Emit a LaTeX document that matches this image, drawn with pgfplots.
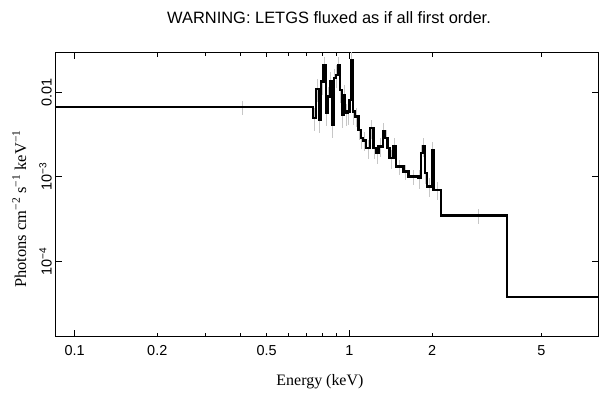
\documentclass[border=0pt]{standalone}
\usepackage{fontspec}
\setmainfont{Liberation Sans}
\newfontfamily\seriffont{Liberation Serif}
\usepackage{pgfplots}
\usepackage{pgfplotstable}
\pgfplotsset{compat=1.18}

\pgfplotstableread{
lo F
0.07 0.006646
0.7358 0.004965
0.7563 0.01094
0.7737 0.004701
0.7888 0.01335
0.8042 0.02104
0.8226 0.005689
0.8316 0.008869
0.8508 0.01335
0.8628 0.004102
0.8796 0.01464
0.8923 0.01602
0.9074 0.02104
0.9250 0.01065
0.9383 0.005387
0.9510 0.009290
0.9646 0.005645
0.9834 0.005895
1.0000 0.008108
1.0118 0.02411
1.0289 0.005895
1.0489 0.005143
1.0784 0.003580
1.1003 0.002855
1.1188 0.002675
1.1502 0.002175
1.1894 0.003750
1.2227 0.002175
1.2507 0.001897
1.2750 0.002272
1.3230 0.003418
1.3487 0.002855
1.3750 0.002175
1.3982 0.001655
1.4459 0.002272
1.4790 0.001317
1.5722 0.001149
1.6396 0.001003
1.7826 0.0009603
1.8188 0.001897
1.8495 0.002272
1.8855 0.001100
1.9126 0.0007634
1.9946 0.002076
2.0215 0.0006981
2.1566 0.0003464
3.7396 0.00003780
9.0 0.00003780
}\steptable

\pgfplotstableread{
E F err
0.41 0.006646 0.2
0.7461 0.004965 0.3
0.7649 0.01094 0.3
0.7812 0.004701 0.3
0.7964 0.01335 0.3
0.8134 0.02104 0.25
0.8271 0.005689 0.3
0.8412 0.008869 0.3
0.8567 0.01335 0.3
0.8712 0.004102 0.3
0.8859 0.01464 0.3
0.8998 0.01602 0.3
0.9162 0.02104 0.25
0.9316 0.01065 0.3
0.9446 0.005387 0.3
0.9578 0.009290 0.3
0.9739 0.005645 0.3
0.9916 0.005895 0.3
1.0059 0.008108 0.3
1.0203 0.02411 0.25
1.0389 0.005895 0.3
1.0635 0.005143 0.25
1.0892 0.003580 0.25
1.1095 0.002855 0.25
1.1343 0.002675 0.25
1.1696 0.002175 0.25
1.2059 0.003750 0.25
1.2365 0.002175 0.25
1.2627 0.001897 0.25
1.2988 0.002272 0.25
1.3360 0.003418 0.25
1.3620 0.002855 0.25
1.3867 0.002175 0.25
1.4219 0.001655 0.25
1.4624 0.002272 0.25
1.5248 0.001317 0.2
1.6055 0.001149 0.2
1.7099 0.001003 0.2
1.8006 0.0009603 0.25
1.8340 0.001897 0.25
1.8674 0.002272 0.25
1.8990 0.001100 0.25
1.9533 0.0007634 0.25
2.0080 0.002076 0.25
2.0878 0.0006981 0.25
2.94 0.0003464 0.2
}\errtable

\begin{document}
\begin{tikzpicture}
\useasboundingbox (-55.3bp,-62.3bp) rectangle (553.7bp,336.7bp);
\begin{axis}[
  scale only axis,
  width=543.4bp, height=284bp,
  xmode=log, ymode=log,
  xmin=0.0851, xmax=8.08,
  ymin=1.27e-5, ymax=0.0294,
  axis line style={line width=1.4bp},
  every tick/.style={black, line width=1bp},
  major tick length=6.5bp,
  minor tick length=3.5bp,
  xtick={0.1,1},
  xticklabels={0.1,1},
  extra x ticks={0.2,0.5,2,5},
  extra x tick labels={0.2,0.5,2,5},
  extra x tick style={major tick length=4bp},
  ytick={0.01,0.001,0.0001},
  yticklabels={0.01,10\textsuperscript{−3},10\textsuperscript{−4}},
  tick label style={font=\fontsize{14.5}{17}\selectfont},
  /pgf/number format/assume math mode=true,
  xticklabel style={yshift=-5bp},
  yticklabel style={rotate=90, anchor=south, xshift=0bp},
  xlabel={Energy (keV)},
  xlabel style={font=\seriffont\fontsize{16}{19}\selectfont, at={(axis description cs:0.487,-0.16)}, anchor=center},
  ylabel={Photons cm\textsuperscript{−2} s\textsuperscript{−1} keV\textsuperscript{−1}},
  ylabel style={font=\seriffont\fontsize{16.5}{19}\selectfont, at={(axis description cs:-0.066,0.45)}, anchor=center},
]
\addplot[draw=none, mark=none, forget plot,
  error bars/.cd, y dir=both, y explicit relative, error mark=none,
  error bar style={draw=black!22, line width=0.9bp, solid}]
  table[x=E, y=F, y error=err] {\errtable};
\addplot[const plot, mark=none, black, line width=2.4bp, line join=miter]
  table[x=lo, y=F] {\steptable};
\end{axis}
\node[font=\fontsize{16.5}{19}\selectfont] at (273.7bp,318.7bp) {WARNING: LETGS fluxed as if all first order.};
\end{tikzpicture}
\end{document}
